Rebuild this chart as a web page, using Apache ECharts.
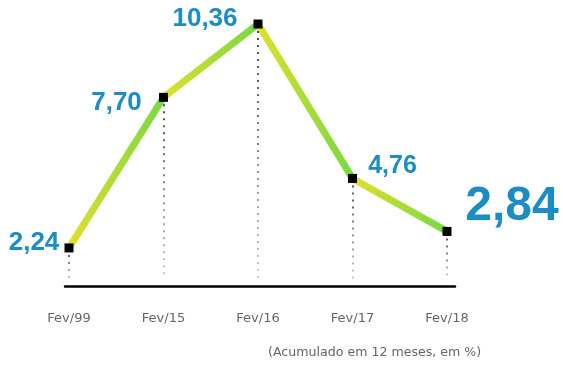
<!DOCTYPE html>
<html>
<head>
<meta charset="utf-8">
<script src="https://cdn.jsdelivr.net/npm/echarts@6/dist/echarts.min.js"></script>
<style>html,body{margin:0;padding:0;background:#fff}#c{width:563px;height:365px}</style>
</head>
<body>
<div id="c"></div>
<script>
var categories = ['Fev/99', 'Fev/15', 'Fev/16', 'Fev/17', 'Fev/18'];
var values = [2.24, 7.70, 10.36, 4.76, 2.84];
var valueLabels = ['2,24', '7,70', '10,36', '4,76', '2,84'];
var note = '(Acumulado em 12 meses, em %)';

var labelStyles = [
  {offset: [-35, -5], fontSize: 26},
  {offset: [-47, 5], fontSize: 26},
  {offset: [-53, -5], fontSize: 26},
  {offset: [40, -12], fontSize: 25},
  {offset: [65, -25], fontSize: 48}
];
var yellow = '#e4df2c', green = '#74d845';
var yMin = 0.86, yMax = 10.36;

var series = [];
for (var i = 0; i < values.length - 1; i++) {
  series.push({
    type: 'line', xAxisIndex: 0, yAxisIndex: 0, symbol: 'none', z: 3,
    data: [[i, values[i]], [i + 1, values[i + 1]]],
    lineStyle: {width: 7, color: {type: 'linear', x: 0, y: 0, x2: 1, y2: 0,
      colorStops: [{offset: 0, color: yellow}, {offset: 1, color: green}]}},
    silent: true
  });
}
series.push({
  type: 'scatter', xAxisIndex: 0, yAxisIndex: 0, z: 5,
  symbol: 'rect', symbolSize: 9,
  itemStyle: {color: '#000', opacity: 1},
  data: values.map(function (v, i) {
    return {value: [i, v], label: {show: true, position: 'inside',
      formatter: valueLabels[i], offset: labelStyles[i].offset,
      fontSize: labelStyles[i].fontSize, fontWeight: 'bold',
      fontFamily: 'Liberation Sans', color: '#1b8cc4', opacity: 1}};
  }),
  markLine: {
    silent: true, symbol: ['none', 'none'], label: {show: false},
    lineStyle: {type: [2, 5], width: 2, opacity: 1,
      color: {type: 'linear', x: 0, y: 0, x2: 0, y2: 1,
        colorStops: [{offset: 0, color: '#444'}, {offset: 1, color: '#d0d0d0'}]}},
    data: values.map(function (v, i) {
      return [{coord: [i, v]}, {coord: [i, yMin + 0.25]}];
    })
  }
});

var chart = echarts.init(document.getElementById('c'), null, {renderer: 'canvas'});
chart.setOption({
  animation: false,
  title: {text: note, left: 263, top: 341,
    textStyle: {fontSize: 12.6, fontWeight: 'normal', color: '#666', fontFamily: 'DejaVu Sans'}},
  grid: [
    {left: 69, right: 116, top: 24, bottom: 79},
    {left: 65, right: 108, top: 24, bottom: 79}
  ],
  xAxis: [
    {type: 'category', gridIndex: 0, data: categories, boundaryGap: false,
      axisLine: {show: false}, axisTick: {show: false}, splitLine: {show: false},
      axisLabel: {margin: 26, fontSize: 13, color: '#666', fontFamily: 'DejaVu Sans'}},
    {type: 'value', gridIndex: 1, min: 0, max: 1, position: 'bottom',
      axisLine: {show: true, onZero: false, lineStyle: {color: '#000', width: 2.5}},
      axisTick: {show: false}, axisLabel: {show: false}, splitLine: {show: false}}
  ],
  yAxis: [
    {type: 'value', gridIndex: 0, min: yMin, max: yMax, show: false},
    {type: 'value', gridIndex: 1, min: 0, max: 1, show: false}
  ],
  series: series
});
</script>
</body>
</html>
